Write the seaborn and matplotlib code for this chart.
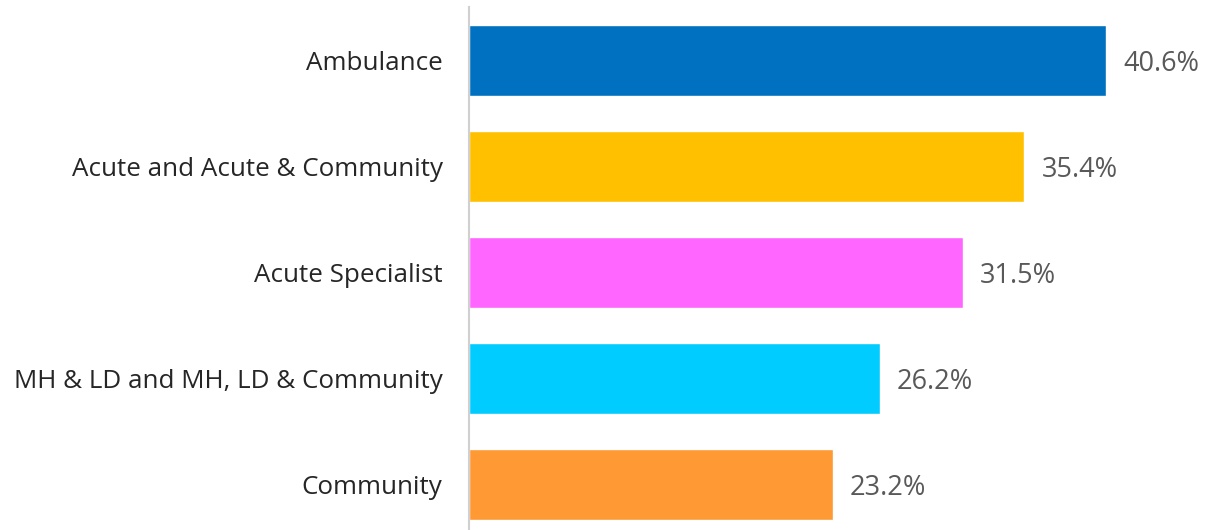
import matplotlib
matplotlib.use("Agg")
import matplotlib.pyplot as plt
import seaborn as sns
import pandas as pd

categories = ["Ambulance", "Acute and Acute & Community", "Acute Specialist",
              "MH & LD and MH, LD & Community", "Community"]
values = [40.6, 35.4, 31.5, 26.2, 23.2]
colors = ["#0070C0", "#FFC000", "#FF66FF", "#00CCFF", "#FF9933"]

df = pd.DataFrame({"category": categories, "value": values})

sns.set_style("white")
plt.rcParams["font.family"] = ["Open Sans", "DejaVu Sans"]

fig = plt.figure(figsize=(12.06, 5.30), dpi=100)
ax = fig.add_axes([469 / 1206, 0.0, 1 - 469 / 1206, 1 - 7.5 / 530])

sns.barplot(data=df, x="value", y="category", hue="category", palette=colors,
            width=0.67, legend=False, ax=ax, saturation=1)

for i, v in enumerate(values):
    ax.text(v + 1.1, i + 0.03, f"{v}%", va="center", ha="left",
            fontsize=19.5, color="#595959")

ax.set_xlim(0, 47.0)
ax.set_ylim(4.43, -0.5)
ax.set_xlabel("")
ax.set_ylabel("")
ax.set_xticks([])
ax.tick_params(axis="y", length=0, pad=19, labelsize=18.7, labelcolor="#262626")
for s in ["top", "right", "bottom"]:
    ax.spines[s].set_visible(False)
ax.spines["left"].set_color("#D0D0D0")
ax.spines["left"].set_linewidth(1.5)

fig.savefig("out.png", dpi=100)
